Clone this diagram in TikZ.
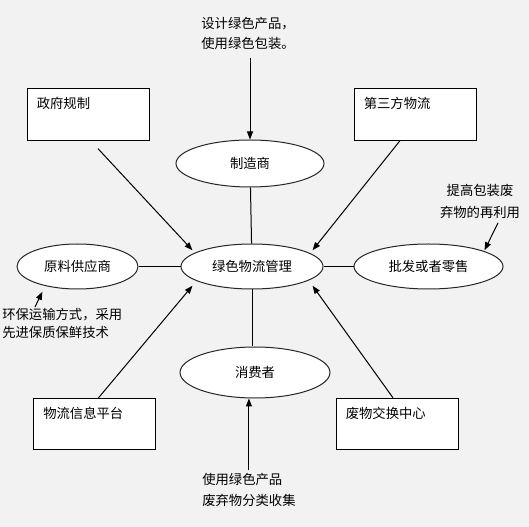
\documentclass[tikz,border=0pt]{standalone}
\usepackage{fontspec}
\newfontfamily\cjk{Noto Sans CJK SC}
\usetikzlibrary{shapes.geometric, arrows.meta}
\definecolor{sfondo}{RGB}{242,242,242}

\begin{document}
\begin{tikzpicture}[x=0.75pt, y=-0.75pt,
  every node/.style={font=\cjk\fontsize{10}{15}\selectfont},
  ell/.style={ellipse, draw=black!85, fill=white, line width=0.75pt, inner sep=1pt},
  box/.style={rectangle, draw=black, fill=white, line width=0.75pt,
    minimum width=91.5pt, minimum height=38.5pt},
  boxtext/.style={anchor=north west, inner sep=0pt},
  lnk/.style={line width=0.75pt},
  arr/.style={line width=0.75pt, -{Triangle[length=6pt,width=4.5pt]}}]

  % sfondo
  \fill[sfondo] (0,0) rectangle (529,527);

  % ellissi
  \node[ell, minimum width=111pt, minimum height=35.25pt] (zz) at (250,163.5) {制造商};
  \node[ell, minimum width=106.5pt, minimum height=33.75pt] (gl) at (252,266.5) {绿色物流管理};
  \node[ell, minimum width=90.75pt, minimum height=33.75pt] (yl) at (77.5,266.5) {原料供应商};
  \node[ell, minimum width=111.75pt, minimum height=33.75pt] (pf) at (428.5,266.5) {批发或者零售};
  \node[ell, minimum width=112.5pt, minimum height=38.25pt] (xf) at (255,372.5) {消费者};

  % riquadri
  \node[box] (zf) at (88,114.5) {};
  \node[box] (dsf) at (415,114.5) {};
  \node[box] (wl) at (94.5,424) {};
  \node[box] (fw) at (397,424) {};
  \node[boxtext] (zft) at ([shift={(10,9)}]zf.north west) {政府规制};
  \node[boxtext] (dsft) at ([shift={(10,9)}]dsf.north west) {第三方物流};
  \node[boxtext] (wlt) at ([shift={(10,9)}]wl.north west) {物流信息平台};
  \node[boxtext] (fwt) at ([shift={(10,9)}]fw.north west) {废物交换中心};

  % note
  \node[align=center] (zzn) at (248,33) {设计绿色产品，\\使用绿色包装。};
  \node[align=center, font=\cjk\fontsize{10}{16.5}\selectfont] (pfn) at (480,201)
    {提高包装废\\弃物的再利用};
  \node[align=left, anchor=north west, inner sep=0pt,
    font=\cjk\fontsize{10}{13.5}\selectfont] (yln) at (2,308)
    {环保运输方式，采用\\先进保质保鲜技术};
  \node[align=left, anchor=north west, inner sep=0pt,
    font=\cjk\fontsize{10}{15.75}\selectfont] (xfn) at (202,473)
    {使用绿色产品\\废弃物分类收集};

  % collegamenti
  \draw[lnk] (zz) -- (gl);
  \draw[lnk] (gl.south) -- (gl.south |- xf.north);
  \draw[lnk] (yl) -- (gl);
  \draw[lnk] (gl) -- (pf);

  % frecce
  \draw[arr, shorten <=3pt] (zzn.south -| zz.north) -- (zz.north);
  \draw[arr, shorten <=2pt] (xfn.north) -- (xfn.north |- xf.south);
  \draw[arr] ([shift={(10,8)}]zf.south) -- ([shift={(-9,0)}]gl.north west);
  \draw[arr] ([shift={(-15,0)}]dsf.south) -- ([shift={(10,0)}]gl.north east);
  \draw[arr] ([shift={(4,0)}]wl.north) -- ([shift={(-9,3)}]gl.south west);
  \draw[arr] ([shift={(-4,0)}]fw.north) -- ([shift={(10,3)}]gl.south east);
  \draw[arr] ([shift={(18,0)}]pfn.south) -- ([shift={(3,0)}]pf.north east);
  \draw[arr] ([shift={(33,-1)}]yln.north west) -- ([shift={(8,9)}]yl.south west);
\end{tikzpicture}
\end{document}
